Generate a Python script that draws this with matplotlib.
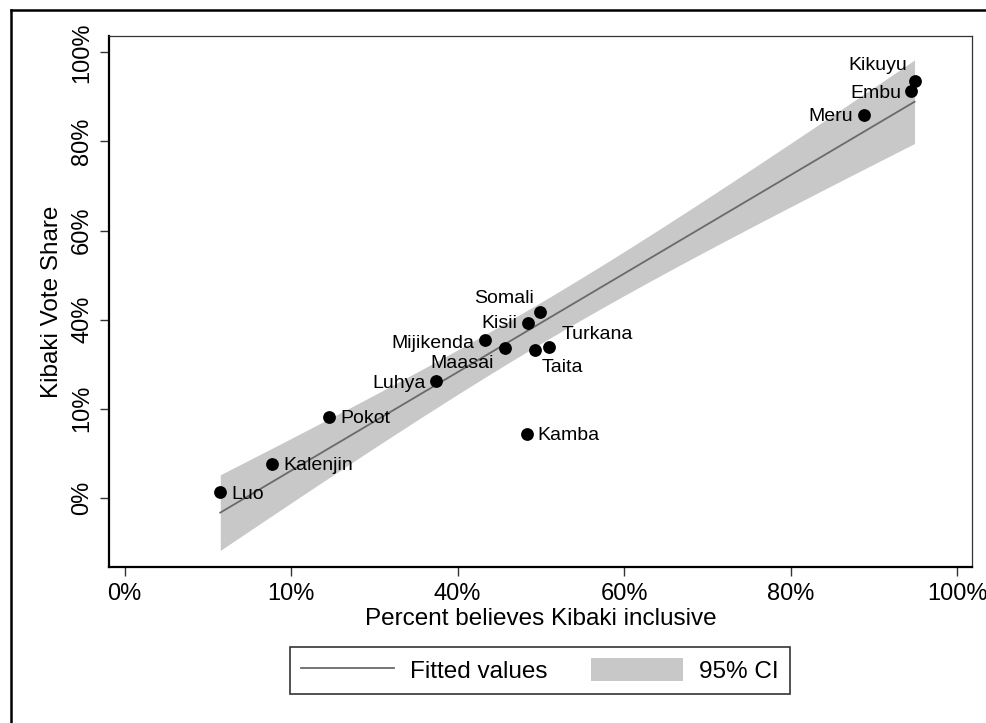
import numpy as np
import matplotlib
matplotlib.use("Agg")
import matplotlib.pyplot as plt
from matplotlib.lines import Line2D
from matplotlib.patches import Patch

plt.rcParams['font.family'] = ['Liberation Sans', 'DejaVu Sans']

# ethnic groups: % who think Kibaki is inclusive vs Kibaki vote share
groups = ['Kikuyu', 'Embu', 'Meru', 'Somali', 'Kisii', 'Mijikenda', 'Maasai',
          'Taita', 'Turkana', 'Luhya', 'Pokot', 'Kalenjin', 'Luo', 'Kamba']
inclusive = [94.9, 94.5, 88.8, 49.9, 48.5, 43.3, 45.7,
             49.3, 51.0, 37.4, 24.6, 17.7, 11.5, 48.3]
vote_share = [93.7, 91.4, 85.9, 41.6, 39.2, 35.3, 33.6,
              33.2, 33.8, 26.3, 18.1, 7.5, 1.35, 14.3]

xtick_pos = [0, 20, 40, 60, 80, 100]
xtick_lab = ['0%', '10%', '40%', '60%', '80%', '100%']
ytick_pos = [0, 20, 40, 60, 80, 100]
ytick_lab = ['0%', '10%', '40%', '60%', '80%', '100%']

# label placement (offset in points, ha, va)
label_pos = {
    'Kikuyu': ((-5, 11), 'right', 'center'),
    'Embu': ((-7, -2), 'right', 'center'),
    'Meru': ((-8, -1), 'right', 'center'),
    'Somali': ((-4, 10), 'right', 'center'),
    'Kisii': ((-8, 0), 'right', 'center'),
    'Mijikenda': ((-8, -2), 'right', 'center'),
    'Maasai': ((-8, -11), 'right', 'center'),
    'Taita': ((5, -13), 'left', 'center'),
    'Turkana': ((9, 9), 'left', 'center'),
    'Luhya': ((-7, -2), 'right', 'center'),
    'Pokot': ((8, -1), 'left', 'center'),
    'Kalenjin': ((8, -1), 'left', 'center'),
    'Luo': ((8, -2), 'left', 'center'),
    'Kamba': ((8, -1), 'left', 'center'),
}

x = np.array(inclusive)
y = np.array(vote_share)
n = len(x)

# linear fit with 95% CI of the mean prediction
slope, intercept = np.polyfit(x, y, 1)
resid = y - (intercept + slope * x)
s = np.sqrt(np.sum(resid ** 2) / (n - 2))
t_crit = 2.179  # t(0.975, df=12)
xs = np.linspace(x.min(), x.max(), 200)
fit = intercept + slope * xs
se = s * np.sqrt(1 / n + (xs - x.mean()) ** 2 / np.sum((x - x.mean()) ** 2))
lo, hi = fit - t_crit * se, fit + t_crit * se

fig = plt.figure(figsize=(9.87, 7.23), dpi=100)
ax = fig.add_axes([109 / 987, 1 - 567 / 723, (972 - 109) / 987, (567 - 36) / 723])

ax.fill_between(xs, lo, hi, color='#c8c8c8', lw=0, zorder=1)
ax.plot(xs, fit, color='#6a6a6a', lw=1.3, zorder=2)
ax.scatter(x, y, s=85, color='black', zorder=3, linewidths=0)

for g, xi, yi in zip(groups, x, y):
    off, ha, va = label_pos[g]
    ax.annotate(g, (xi, yi), xytext=off, textcoords='offset points',
                ha=ha, va=va, fontsize=14, zorder=4)

ax.set_xlim(-1.87, 101.8)
ax.set_ylim(-15.6, 103.7)
ax.set_xticks(xtick_pos)
ax.set_xticklabels(xtick_lab, fontsize=17)
ax.set_yticks(ytick_pos)
ax.set_yticklabels(ytick_lab, fontsize=17, rotation=90, va='center')
ax.tick_params(direction='out', length=6.5, width=1.0, color='#333333', pad=5)

ax.set_xlabel('Percent believes Kibaki inclusive', fontsize=17.5, labelpad=2)
ax.set_ylabel('Kibaki Vote Share', fontsize=17.5, labelpad=6)

for side in ['left', 'bottom']:
    ax.spines[side].set_linewidth(1.6)
    ax.spines[side].set_color('black')
for side in ['top', 'right']:
    ax.spines[side].set_linewidth(0.9)
    ax.spines[side].set_color('#333333')

handles = [Line2D([0], [0], color='#6a6a6a', lw=1.3),
           Patch(facecolor='#c8c8c8', edgecolor='none')]
leg = fig.legend(handles, ['Fitted values', '95% CI'], ncol=2,
                 loc='center', bbox_to_anchor=(540 / 987, 1 - 670.5 / 723),
                 fontsize=17.5, frameon=True, fancybox=False, edgecolor='black',
                 handlelength=3.8, handleheight=1.1, handletextpad=0.65,
                 columnspacing=1.8, borderpad=0.45, borderaxespad=0)
leg.get_frame().set_linewidth(1.2)

# outer frame (only left and top are visible)
fig.add_artist(Line2D([11 / 987, 11 / 987], [0, 1 - 10 / 723], color='black',
                      lw=1.8, transform=fig.transFigure))
fig.add_artist(Line2D([11 / 987, 1], [1 - 10 / 723, 1 - 10 / 723], color='black',
                      lw=1.8, transform=fig.transFigure))

fig.savefig('out.png', dpi=100)
